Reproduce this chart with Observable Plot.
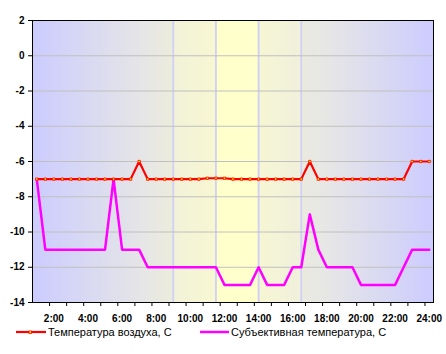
<!DOCTYPE html>
<html><head><meta charset="utf-8">
<script src="https://cdn.jsdelivr.net/npm/d3@7"></script>
<script src="https://cdn.jsdelivr.net/npm/@observablehq/plot@0.6"></script>
<style>
body{margin:0;background:#fff;font-family:"Liberation Sans",Arial,sans-serif;}
#legend{position:relative;height:30px;font-size:11px;color:#000;}
#legend .it{position:absolute;top:1px;height:14px;line-height:14px;white-space:nowrap;display:flex;align-items:center;}
#legend svg{display:block;margin-right:2px;}
</style></head><body>
<div id="chart"></div>
<div id="legend"></div>
<script>
const times = ["1:00","1:30","2:00","2:30","3:00","3:30","4:00","4:30","5:00","5:30","6:00","6:30",
  "7:00","7:30","8:00","8:30","9:00","9:30","10:00","10:30","11:00","11:30","12:00","12:30",
  "13:00","13:30","14:00","14:30","15:00","15:30","16:00","16:30","17:00","17:30","18:00","18:30",
  "19:00","19:30","20:00","20:30","21:00","21:30","22:00","22:30","23:00","23:30","24:00"];
const airTemp = [-7,-7,-7,-7,-7,-7,-7,-7,-7,-7,-7,-7,
  -6,-7,-7,-7,-7,-7,-7,-7,-6.95,-6.95,-6.95,-7,
  -7,-7,-7,-7,-7,-7,-7,-7,-6,-7,-7,-7,
  -7,-7,-7,-7,-7,-7,-7,-7,-6,-6,-6];
const feltTemp = [-7,-11,-11,-11,-11,-11,-11,-11,-11,-7,-11,-11,
  -11,-12,-12,-12,-12,-12,-12,-12,-12,-12,-13,-13,
  -13,-13,-12,-13,-13,-13,-12,-12,-9,-11,-12,-12,
  -12,-12,-13,-13,-13,-13,-13,-12,-11,-11,-11];
const yTicks = [2,0,-2,-4,-6,-8,-10,-12,-14];
const xLabels = ["2:00","4:00","6:00","8:00","10:00","12:00","14:00","16:00","18:00","20:00","22:00","24:00"];
const bandLines = ["9:00","11:30","14:00","16:30"];
const seriesNames = ["Температура воздуха, С","Субъективная температура, С"];
const colors = ["#ff0000","#ff00ff"];

const parse = s => { const [h,m] = s.split(":").map(Number); return h + m/60; };
const data = times.map((t,i)=>({h: parse(t), air: airTemp[i], felt: feltTemp[i]}));
const tickPos = times.filter(t=>t.endsWith(":00") && t!=="1:00").map(t=>parse(t)-0.25);
const labelMap = new Map(xLabels.map(l=>[parse(l), l]));

const svg = Plot.plot({
  width:446, height:324, marginTop:20, marginBottom:22, marginLeft:32, marginRight:13,
  x:{domain:[0.75,24.25]}, y:{domain:[-14,2]},
  style:{fontFamily:'"Liberation Sans",Arial,sans-serif', fontSize:"10px", fontWeight:"bold", color:"black", background:"white", overflow:"visible"},
  marks:[
    Plot.frame({fill:"url(#bgGrad)"}),
    Plot.ruleX(bandLines.map(parse), {stroke:"#cfcff7", strokeWidth:1.8}),
    Plot.ruleY(yTicks.filter(v=>v>-14 && v<2), {stroke:"#c0c0c0"}),
    Plot.axisY({ticks:yTicks, tickSize:4, tickPadding:4, label:null, tickFormat:d=>String(d)}),
    Plot.axisX({ticks:tickPos, tickSize:4, tickFormat:()=>"", label:null}),
    Plot.axisX({ticks:xLabels.map(parse), tickSize:0, tickPadding:12, tickFormat:h=>labelMap.get(h), label:null}),
    Plot.line(data,{x:"h", y:"felt", stroke:colors[1], strokeWidth:2.5}),
    Plot.line(data,{x:"h", y:"air", stroke:colors[0], strokeWidth:2.2}),
    Plot.dot(data,{x:"h", y:"air", symbol:"square", r:1.3, fill:"#ffff00", stroke:colors[0], strokeWidth:0.8}),
    Plot.frame({stroke:"black"})
  ]
});
const ns = "http://www.w3.org/2000/svg";
const defs = document.createElementNS(ns,"defs");
defs.innerHTML = `<linearGradient id="bgGrad" x1="0" x2="1" y1="0" y2="0">
 <stop offset="0" stop-color="#ccccff"/>
 <stop offset="0.28" stop-color="#e6e6e6"/>
 <stop offset="0.35" stop-color="#ececdc"/>
 <stop offset="0.351" stop-color="#f2f2da"/>
 <stop offset="0.458" stop-color="#f7f7d2"/>
 <stop offset="0.459" stop-color="#ffffcc"/>
 <stop offset="0.563" stop-color="#ffffcc"/>
 <stop offset="0.564" stop-color="#f6f6d4"/>
 <stop offset="0.67" stop-color="#f0f0dc"/>
 <stop offset="0.671" stop-color="#eaeae0"/>
 <stop offset="0.74" stop-color="#e6e6e6"/>
 <stop offset="1" stop-color="#ccccff"/>
</linearGradient>`;
svg.insertBefore(defs, svg.firstChild);
document.getElementById("chart").appendChild(svg);

const legend = document.getElementById("legend");
const lefts = [16, 200];
seriesNames.forEach((name,i)=>{
  const it = document.createElement("div");
  it.className = "it";
  it.style.left = lefts[i] + "px";
  const marker = i===0
    ? `<line x1="0" x2="30" y1="7" y2="7" stroke="${colors[0]}" stroke-width="2.2"/><rect x="13" y="6" width="2.5" height="2.5" fill="#ffff00" stroke="${colors[0]}" stroke-width="0.8"/>`
    : `<line x1="0" x2="29" y1="7" y2="7" stroke="${colors[1]}" stroke-width="2.5"/>`;
  it.innerHTML = `<svg width="${i===0?30:29}" height="14">${marker}</svg><span>${name}</span>`;
  legend.appendChild(it);
});
</script>
</body></html>
